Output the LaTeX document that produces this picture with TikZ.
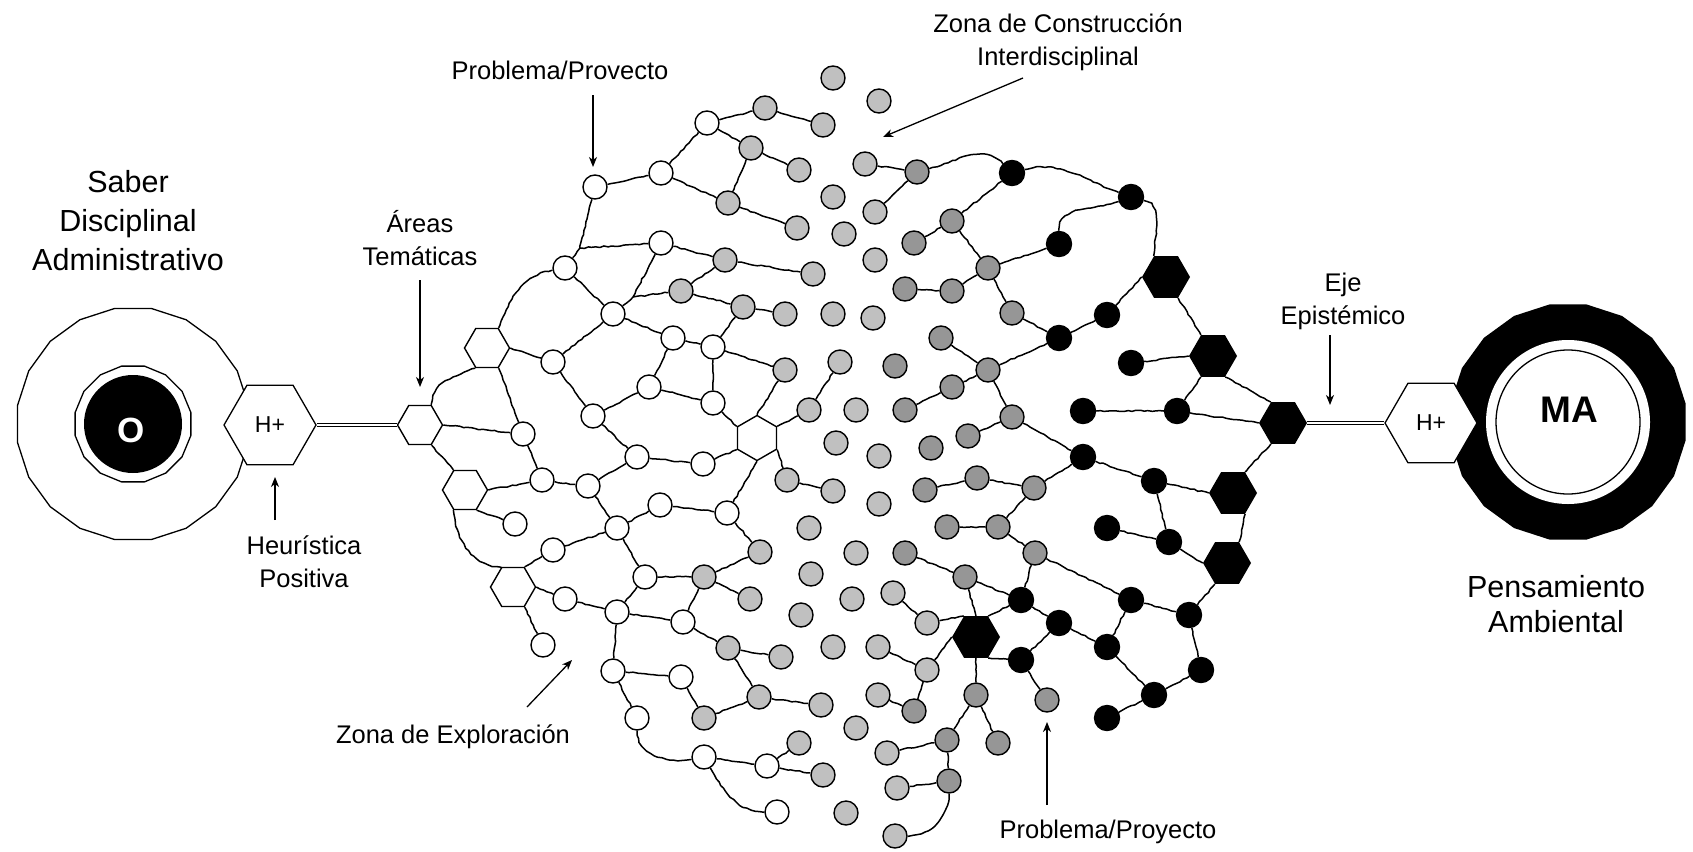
\documentclass[tikz,border=0pt]{standalone}
\usepackage{fontspec}
\setmainfont{Liberation Sans}
\usetikzlibrary{shapes.geometric,arrows.meta,decorations.pathmorphing}
\definecolor{lightcell}{HTML}{C0C0C0}
\definecolor{darkcell}{HTML}{969696}

\begin{document}
\begin{tikzpicture}[x=1pt,y=1pt,
    cell/.style={circle,draw,line width=1.4pt,minimum size=24pt,inner sep=0pt},
    wcell/.style={cell,fill=white},
    lcell/.style={cell,fill=lightcell},
    dcell/.style={cell,fill=darkcell},
    bcell/.style={cell,fill=black,minimum size=25pt},
    hexcell/.style={regular polygon,regular polygon sides=6,draw,line width=1.4pt,fill=white,minimum size=45pt,inner sep=0pt},
    bhexcell/.style={regular polygon,regular polygon sides=6,fill=black,minimum size=48pt,inner sep=0pt},
    hplus/.style={regular polygon,regular polygon sides=6,draw,line width=1.3pt,fill=white,minimum size=92pt,inner sep=0pt,font=\fontsize{23}{23}\selectfont},
    link/.style={line width=1.5pt,decorate,decoration={random steps,segment length=4pt,amplitude=0.7pt}},
    axisline/.style={double,double distance=2.4pt,line width=1pt},
    pointer/.style={line width=1.3pt,-{Stealth[length=10pt,width=8pt,inset=3pt]}},
    notetext/.style={font=\fontsize{25.5}{33}\selectfont,align=center,inner sep=0pt},
    poletext/.style={font=\fontsize{30.5}{39}\selectfont,align=center,inner sep=0pt}
]
\pgfmathsetseed{11}
\useasboundingbox (0,0) rectangle (1693,-851);
\fill[white] (0,0) rectangle (1693,-851);

% Saber disciplinal (left pole)
\node[regular polygon,regular polygon sides=20,draw,line width=1.3pt,fill=white,minimum size=234pt,inner sep=0pt] (sdo) at (133,-424) {};
\node[regular polygon,regular polygon sides=16,draw,line width=1.3pt,minimum size=118pt,inner sep=0pt] (sdring) at (133,-424) {};
\node[circle,fill=black,minimum size=98pt,inner sep=0pt] (sdcore) at (133,-424) {};
\node[text=white,font=\fontsize{35}{35}\bfseries] (olabel) at (131,-430) {O};
\node[hplus] (hpl) at (270,-425) {H+};

% Pensamiento ambiental (right pole)
\node[regular polygon,regular polygon sides=20,fill=black,minimum size=238pt,inner sep=0pt] (pam) at (1568,-422) {};
\node[circle,fill=white,minimum size=164pt,inner sep=0pt] (pamgap) at (1568,-422) {};
\node[circle,draw,line width=1.3pt,minimum size=144pt,inner sep=0pt] (pamcore) at (1568,-422) {};
\node[font=\fontsize{37}{37}\bfseries] (malabel) at (1569,-410) {MA};
\node[hplus] (hpr) at (1431,-423) {H+};

% Hexagonal cells (corner 1 = upper right, counterclockwise)
\foreach \n/\x/\y in {hA/420/425, hB/487/348, hC/465/490, hD/513/587}
    \node[hexcell] (\n) at (\x,-\y) {};
\node[hexcell,shape border rotate=30] (hE) at (757,-438) {};
\foreach \n/\x/\y in {k1/1166/277, k2/1213/356, k3/1283/423, k4/1233/493, k5/1227/563, k6/976/637}
    \node[bhexcell] (\n) at (\x,-\y) {};

% Epistemic axes
\draw[axisline] (hpl.corner 6) -- (hA.corner 3);
\draw[axisline] (k3.corner 6) -- (hpr.corner 3);

% Exploration zone cells
\foreach \n/\x/\y in {w1/595/187, w2/661/173, w3/707/123, w4/661/243, w5/565/268,
    w6/613/314, w7/673/338, w8/713/347, w9/553/362, w10/649/387, w11/713/403,
    w12/593/416, w13/523/434, w14/637/457, w15/703/464, w16/542/480, w17/588/486,
    w18/660/505, w19/727/513, w20/515/524, w21/617/528, w22/553/550, w23/645/577,
    w24/565/599, w25/617/612, w26/683/622, w27/543/645, w28/613/671, w29/681/677,
    w30/637/718, w31/704/757, w32/767/766, w33/777/812}
    \node[wcell] (\n) at (\x,-\y) {};

% Interdisciplinary cells
\foreach \n/\x/\y in {l1/728/203, l2/725/260, l3/681/291, l4/743/307, l5/785/314,
    l6/785/370, l7/787/480, l8/760/552, l9/704/577, l10/750/599, l11/728/648,
    l12/781/657, l13/704/718, l14/833/78, l15/879/101, l16/765/108, l17/823/125,
    l18/751/148, l19/865/164, l20/799/170, l21/833/197, l22/875/212, l23/797/228,
    l24/844/234, l25/875/260, l26/813/274, l27/833/314, l28/873/318, l29/840/362,
    l30/809/410, l31/856/410, l32/836/443, l33/879/456, l34/833/491, l35/879/504,
    l36/809/528, l37/856/553, l38/811/574, l39/852/599, l40/893/593, l41/801/615,
    l42/833/647, l43/878/647, l44/927/623, l45/927/670, l46/759/697, l47/821/705,
    l48/878/695, l49/856/728, l50/799/743, l51/887/753, l52/823/775, l53/897/788,
    l54/846/813, l55/895/836}
    \node[lcell] (\n) at (\x,-\y) {};
\foreach \n/\x/\y in {d1/917/172, d2/952/221, d3/914/243, d4/988/268, d5/905/289,
    d6/952/291, d7/1012/313, d8/941/338, d9/895/366, d10/988/370, d11/952/387,
    d12/905/410, d13/1012/417, d14/968/436, d15/931/448, d16/977/478, d17/925/490,
    d18/1034/488, d19/947/527, d20/998/527, d21/1035/553, d22/905/553, d23/965/577,
    d24/914/711, d25/976/695, d26/947/740, d27/998/743, d28/949/781, d29/1047/700}
    \node[dcell] (\n) at (\x,-\y) {};
\foreach \n/\x/\y in {b1/1012/173, b2/1131/197, b3/1059/244, b4/1107/315, b5/1059/338,
    b6/1131/363, b7/1083/411, b8/1177/411, b9/1083/457, b10/1154/481, b11/1107/528,
    b12/1169/542, b13/1021/600, b14/1131/600, b15/1059/623, b16/1189/615,
    b17/1107/647, b18/1021/660, b19/1201/670, b20/1154/695, b21/1107/718}
    \node[bcell] (\n) at (\x,-\y) {};
\coordinate (j1) at (580,-248);
\coordinate (j2) at (633,-297);

% Links between cells
\foreach \a/\b in {w1/w2, w2/w3, w3/l16, w3/l18, w2/l1, w1/j1, j1/w5, j1/w4, w4/l2,
    w4/j2, j2/l3, j2/w6, l2/l3, l3/l4, l4/l5, l4/w8, w5/w6, w6/w7, w6/w9, w7/w8,
    w7/w10, w8/w11, w8/l6, w10/w11, w10/w12, w9/w12, w12/w14, w13/w16, w14/w15,
    w14/w17, w16/w17, w17/w21, w21/w18, w18/w19, l30/l29, w22/w21, w24/w25,
    w21/w23, w23/l9, w23/w25, w25/w26, l9/w26, l9/l8, l9/l10, w19/l8, w26/l11,
    w25/w28, w28/w29, w29/l13, l13/l46, w31/w32, l11/l12, l11/l46, l46/l47,
    l50/w32, w32/l52, l7/l34, l16/l17, l18/l20, l18/l1, l1/l23, l2/l26, l19/d1,
    d1/l22, b1/d2, d2/d3, d2/d4, d4/d7, d4/d6, d6/d5, d8/d10, d10/d11, d11/d12,
    d10/d13, d10/b5, d14/d13, b3/d4, d7/b5, b5/b4, b7/b8, d13/b9, d16/d18,
    d17/d16, d18/b9, b9/b10, d18/d20, d19/d20, b10/b12, b11/b12, d20/d21,
    d21/b13, d21/b14, b14/b16, b16/b19, b14/b17, b13/b15, b15/b17, b15/b18,
    b18/d29, b17/b20, b20/b19, b20/b21, l40/l44, l43/l45, l45/d24, l48/d24,
    d22/d23, d23/b13, d25/d26, d25/d27, d26/l51, d26/d28, d28/l53, w28/w30}
    \draw[link] (\a) -- (\b);
\draw[link] (w5) to[out=190,in=70] (hB.corner 1);
\draw[link] (hB.corner 6) -- (w9);
\draw[link] (hB.corner 5) -- (w13);
\draw[link] (hB.corner 4) to[out=200,in=90] (hA.corner 1);
\draw[link] (hA.corner 6) -- (w13);
\draw[link] (hA.corner 5) -- (hC.corner 2);
\draw[link] (hC.corner 6) -- (w16);
\draw[link] (hC.corner 5) -- (w20);
\draw[link] (hC.corner 4) to[out=-85,in=180] (hD.corner 2);
\draw[link] (hD.corner 1) -- (w22);
\draw[link] (hD.corner 6) -- (w24);
\draw[link] (hD.corner 5) -- (w27);
\draw[link] (w11) -- (hE.corner 2);
\draw[link] (w15) -- (hE.corner 3);
\draw[link] (hE.corner 4) -- (w19);
\draw[link] (hE.corner 5) -- (l7);
\draw[link] (hE.corner 6) -- (l30);
\draw[link] (hE.corner 1) -- (l6);
\draw[link] (w30) to[out=-90,in=190] (w31);
\draw[link] (w31) to[out=-60,in=180] (w33);
\draw[link] (d1) to[out=15,in=135] (b1);
\draw[link] (b1) to[out=15,in=160] (b2);
\draw[link] (b2) to[out=-15,in=90] (k1.corner 2);
\draw[link] (b2) to[out=200,in=90] (b3);
\draw[link] (b4) -- (k1.corner 3);
\draw[link] (k1.corner 5) -- (k2.corner 2);
\draw[link] (b6) -- (k2.corner 3);
\draw[link] (k2.corner 4) -- (b8);
\draw[link] (k2.corner 5) -- (k3.corner 2);
\draw[link] (b8) -- (k3.corner 3);
\draw[link] (k3.corner 4) -- (k4.corner 1);
\draw[link] (b10) -- (k4.corner 3);
\draw[link] (k4.corner 5) -- (k5.corner 1);
\draw[link] (b12) -- (k5.corner 3);
\draw[link] (b16) -- (k5.corner 4);
\draw[link] (l44) -- (k6.corner 2);
\draw[link] (l45) -- (k6.corner 3);
\draw[link] (d23) -- (k6.north);
\draw[link] (k6.corner 1) -- (b13);
\draw[link] (k6.corner 5) -- (b18);
\draw[link] (k6.south) -- (d25);
\draw[link] (d28) to[out=-90,in=0] (l55);

% Labels
\node[poletext] (saber) at (128,-221) {Saber\\Disciplinal\\Administrativo};
\node[poletext,font=\fontsize{30.5}{35.5}\selectfont] (pensam) at (1556,-604) {Pensamiento\\Ambiental};
\node[notetext] (areas) at (420,-238) {Áreas\\Temáticas};
\node[notetext] (heur) at (304,-562) {Heurística\\Positiva};
\node[notetext] (eje) at (1343,-301) {Eje\\Epistémico};
\node[notetext] (zconst) at (1058,-42) {Zona de Construcción\\Interdisciplinal};
\node[notetext,anchor=base] (pprov) at (560,-79) {Problema/Provecto};
\node[notetext,anchor=base] (zexpl) at (453,-743) {Zona de Exploración};
\node[notetext,anchor=base] (pproy) at (1108,-838) {Problema/Proyecto};

% Pointers
\coordinate (ppTail) at (593,-95);    \coordinate (ppTip) at (593,-167);
\coordinate (arTail) at (420,-280);   \coordinate (arTip) at (420,-387);
\coordinate (heTail) at (275,-520);   \coordinate (heTip) at (275,-477);
\coordinate (ejTail) at (1330,-335);  \coordinate (ejTip) at (1330,-405);
\coordinate (zcTail) at (1023,-78);   \coordinate (zcTip) at (883,-137);
\coordinate (zeTail) at (527,-707);   \coordinate (zeTip) at (572,-660);
\coordinate (pyTail) at (1047,-805);  \coordinate (pyTip) at (1047,-722);
\foreach \s in {pp,ar,he,ej,zc,ze,py}
    \draw[pointer] (\s Tail) -- (\s Tip);
\end{tikzpicture}
\end{document}
